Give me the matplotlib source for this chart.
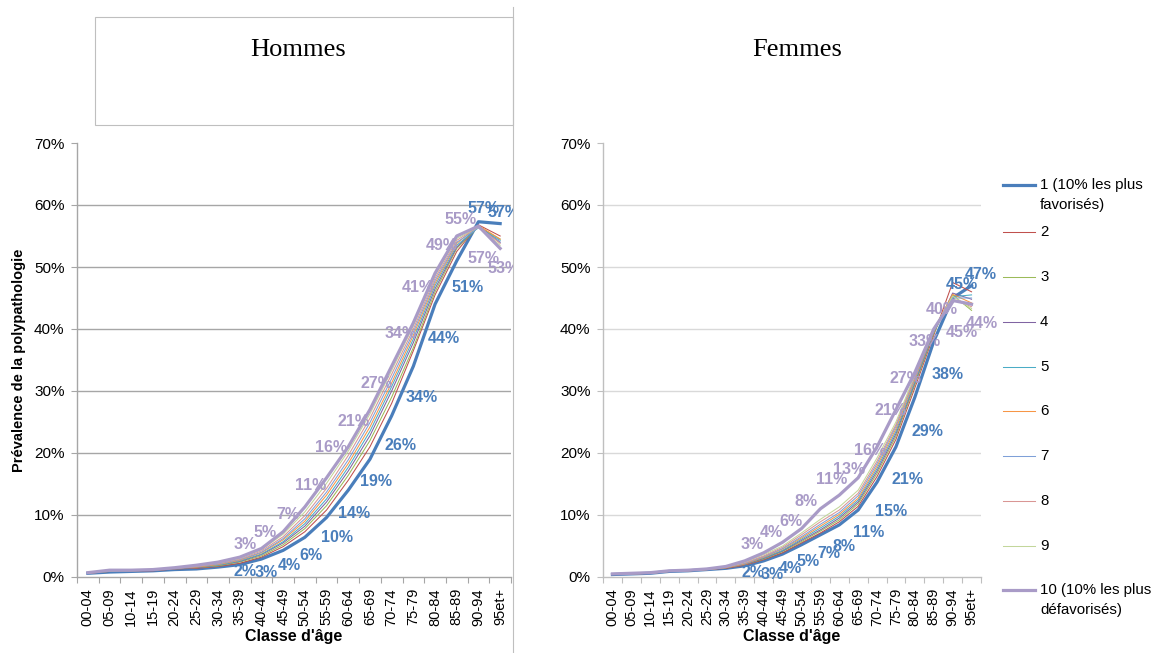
import numpy as np
import matplotlib
matplotlib.use("Agg")
from matplotlib import pyplot as plt
from matplotlib.patches import Rectangle
from matplotlib.transforms import Bbox, TransformedBbox
from matplotlib.ticker import FuncFormatter

plt.rcParams['font.family'] = ['Liberation Sans', 'DejaVu Sans']

ages = ["00-04", "05-09", "10-14", "15-19", "20-24", "25-29", "30-34", "35-39", "40-44", "45-49",
        "50-54", "55-59", "60-64", "65-69", "70-74", "75-79", "80-84", "85-89", "90-94", "95et+"]

deciles = ["1 (10% les plus\nfavorisés)", "2", "3", "4", "5", "6", "7", "8", "9",
           "10 (10% les plus\ndéfavorisés)"]

# prévalence en %, hommes, par décile
h1 = [0.6, 0.8, 0.9, 1.0, 1.2, 1.3, 1.6, 2.0, 2.9, 4.3, 6.4, 9.6, 14.0, 19.0, 26.0, 34.0, 44.0, 51.0, 57.3, 57.0]
h2 = [0.6, 0.9, 1.0, 1.0, 1.3, 1.4, 1.7, 2.2, 3.2, 4.9, 7.3, 10.8, 15.6, 21.0, 28.0, 36.5, 45.5, 52.5, 56.8, 55.0]
h3 = [0.6, 0.9, 1.0, 1.1, 1.3, 1.5, 1.8, 2.4, 3.4, 5.2, 7.8, 11.5, 16.4, 22.0, 29.0, 37.0, 46.0, 53.0, 56.5, 54.5]
h4 = [0.6, 0.9, 1.0, 1.1, 1.3, 1.5, 1.9, 2.5, 3.6, 5.5, 8.2, 12.1, 17.1, 22.8, 30.0, 37.8, 46.5, 53.2, 56.6, 54.0]
h5 = [0.7, 0.9, 1.0, 1.1, 1.4, 1.6, 1.9, 2.6, 3.7, 5.7, 8.6, 12.6, 17.7, 23.5, 30.7, 38.4, 47.0, 53.5, 56.4, 54.3]
h6 = [0.7, 1.0, 1.0, 1.1, 1.4, 1.6, 2.0, 2.7, 3.9, 6.0, 9.0, 13.2, 18.3, 24.2, 31.3, 39.0, 47.4, 53.8, 56.7, 54.5]
h7 = [0.7, 1.0, 1.0, 1.1, 1.4, 1.7, 2.1, 2.8, 4.0, 6.2, 9.4, 13.7, 18.9, 24.9, 32.0, 39.5, 47.8, 54.0, 56.3, 54.0]
h8 = [0.7, 1.0, 1.1, 1.2, 1.4, 1.7, 2.2, 2.9, 4.2, 6.5, 9.9, 14.3, 19.6, 25.6, 32.7, 40.0, 48.2, 54.3, 56.5, 53.8]
h9 = [0.7, 1.0, 1.1, 1.2, 1.5, 1.8, 2.3, 3.0, 4.4, 6.9, 10.5, 15.1, 20.3, 26.3, 33.3, 40.5, 48.6, 54.6, 56.4, 53.5]
h10 = [0.7, 1.1, 1.1, 1.2, 1.5, 1.9, 2.4, 3.2, 4.6, 7.3, 11.3, 16.0, 21.0, 27.0, 34.0, 41.0, 49.0, 55.0, 56.6, 53.0]

# femmes
f1 = [0.4, 0.5, 0.6, 0.9, 1.0, 1.2, 1.4, 1.8, 2.6, 3.7, 5.2, 6.8, 8.4, 10.8, 15.3, 21.0, 29.0, 38.0, 45.0, 47.0]
f2 = [0.4, 0.5, 0.6, 0.9, 1.0, 1.2, 1.4, 1.9, 2.8, 3.9, 5.5, 7.1, 8.9, 11.4, 16.2, 22.2, 30.5, 39.0, 47.5, 46.0]
f3 = [0.4, 0.5, 0.6, 0.9, 1.0, 1.2, 1.5, 2.0, 2.9, 4.1, 5.7, 7.4, 9.2, 11.8, 16.7, 22.7, 31.0, 39.3, 45.5, 43.0]
f4 = [0.4, 0.5, 0.6, 0.9, 1.0, 1.2, 1.5, 2.0, 3.0, 4.2, 5.9, 7.6, 9.5, 12.1, 17.1, 23.1, 31.3, 39.5, 45.8, 44.8]
f5 = [0.4, 0.5, 0.6, 0.9, 1.0, 1.2, 1.5, 2.1, 3.1, 4.3, 6.1, 7.9, 9.8, 12.4, 17.5, 23.5, 31.6, 39.6, 45.2, 45.5]
f6 = [0.4, 0.5, 0.6, 0.9, 1.0, 1.2, 1.5, 2.1, 3.2, 4.5, 6.3, 8.2, 10.1, 12.7, 17.9, 23.9, 31.9, 39.7, 45.6, 44.2]
f7 = [0.4, 0.5, 0.6, 0.9, 1.0, 1.3, 1.6, 2.2, 3.3, 4.6, 6.5, 8.5, 10.4, 13.1, 18.3, 24.3, 32.2, 39.8, 45.0, 45.0]
f8 = [0.5, 0.6, 0.7, 1.0, 1.1, 1.3, 1.6, 2.3, 3.4, 4.8, 6.8, 8.9, 10.8, 13.5, 18.7, 24.6, 32.4, 39.9, 44.8, 43.6]
f9 = [0.5, 0.6, 0.7, 1.0, 1.1, 1.3, 1.6, 2.4, 3.6, 5.0, 7.1, 9.3, 11.3, 14.0, 19.2, 25.0, 32.6, 40.0, 45.3, 43.3]
f10 = [0.5, 0.6, 0.7, 1.0, 1.1, 1.3, 1.7, 2.6, 3.9, 5.6, 7.8, 11.0, 13.2, 16.0, 21.0, 27.0, 33.0, 40.0, 44.6, 44.0]

hommes = [h1, h2, h3, h4, h5, h6, h7, h8, h9, h10]
femmes = [f1, f2, f3, f4, f5, f6, f7, f8, f9, f10]

couleurs = ['#4A7EBB', '#C0504D', '#9BBB59', '#8064A2', '#4BACC6',
            '#F79646', '#7FA0D8', '#D99694', '#C3D69B', '#A99BC7']
epaisseurs = [2.3, 0.75, 0.75, 0.75, 0.75, 0.75, 0.75, 0.75, 0.75, 2.3]
coul_lab1 = '#4A7EBB'
coul_lab10 = '#A99BC7'

# etiquettes a partir de 35-39 (decalages en pixels)
debut_lab = 7
dec_h1 = [(5, 7), (5, 13), (6, 15), (6, 18), (10, 20), (6, 23), (6, 22), (9, 30), (8, 31), (9, 34), (11, 27), (5, -13), (3, -11)]
dec_h10 = [(5, -13), (4, -16), (5, -17), (6, -21), (5, -30), (5, -25), (6, -26), (9, -33), (4, -35), (7, -28), (4, -17), (5, 32), (3, 20)]
dec_f1 = [(8, 7), (8, 14), (8, 14), (7, 17), (9, 19), (5, 22), (10, 22), (14, 29), (12, 33), (13, 34), (14, 33), (9, -14), (9, -11)]
dec_f10 = [(7, -16), (8, -20), (8, -21), (5, -27), (11, -29), (10, -26), (12, -27), (13, -36), (9, -31), (10, -31), (8, -20), (9, 32), (10, 19)]

W, H = 1159, 653
fig = plt.figure(figsize=(W / 100, H / 100), dpi=100)


def px_axes(x0, x1, y0, y1):
    return fig.add_axes([x0 / W, 1 - y1 / H, (x1 - x0) / W, (y1 - y0) / H])


def trace(ax, series, grille, axe_col):
    x = np.arange(len(ages))
    for vals, c, lw in zip(series, couleurs, epaisseurs):
        ax.plot(x, np.array(vals) / 100, color=c, lw=lw, solid_joinstyle='round', zorder=3)
    ax.set_xlim(-0.5, len(ages) - 0.5)
    ax.set_ylim(0, 0.70)
    yt = np.arange(0, 0.71, 0.1)
    ax.set_yticks(yt)
    ax.yaxis.set_major_formatter(FuncFormatter(lambda v, p: f"{v * 100:.0f}%"))
    for v in yt[1:-1]:
        ax.axhline(v, color=grille, lw=1.0, zorder=1)
    ax.set_xticks(x)
    ax.set_xticklabels(ages, rotation=90, fontsize=10.5)
    ax.set_xticks(np.arange(-0.5, len(ages)), minor=True)
    ax.tick_params(axis='x', which='major', length=0, pad=8)
    ax.tick_params(axis='x', which='minor', length=4, color=axe_col, width=0.8)
    ax.tick_params(axis='y', length=4, color=axe_col, width=0.8, labelsize=11, pad=5)
    for s in ['top', 'right']:
        ax.spines[s].set_visible(False)
    for s in ['left', 'bottom']:
        ax.spines[s].set_color(axe_col)
        ax.spines[s].set_linewidth(1.0)
    ax.set_xlabel("Classe d'âge", fontsize=11.5, fontweight='bold', labelpad=2)
    ax.patch.set_alpha(0)


def etiquettes(ax, vals, decal, col, clip=None):
    for k, (dx, dy) in enumerate(decal):
        i = debut_lab + k
        v = vals[i]
        t = ax.annotate(f"{v:.0f}%", (i, v / 100), xytext=(dx, -dy), textcoords='offset pixels',
                        ha='center', va='center', color=col, fontsize=11.5, fontweight='bold',
                        annotation_clip=False, zorder=5)
        if clip is not None:
            t.set_clip_box(clip)
            t.set_clip_on(True)


ax_h = px_axes(77, 511, 143, 577)
trace(ax_h, hommes, '#A6A6A6', '#A6A6A6')
ax_h.set_ylabel("Prévalence de la polypathologie", fontsize=10.5, fontweight='bold', labelpad=6)
clip_h = TransformedBbox(Bbox([[0, 0], [513 / W, 1]]), fig.transFigure)
etiquettes(ax_h, h1, dec_h1, coul_lab1, clip_h)
etiquettes(ax_h, h10, dec_h10, coul_lab10, clip_h)

ax_f = px_axes(603, 981, 143, 577)
trace(ax_f, femmes, '#D9D9D9', '#BFBFBF')
etiquettes(ax_f, f1, dec_f1, coul_lab1)
etiquettes(ax_f, f10, dec_f10, coul_lab10)

# calque en pixels pour cadres, titres et legende
ov = fig.add_axes([0, 0, 1, 1], zorder=10)
ov.set_xlim(0, W)
ov.set_ylim(H, 0)
ov.axis('off')
ov.add_patch(Rectangle((95, 17), 418, 108, fill=False, ec='#BFBFBF', lw=0.8))
ov.plot([513, 513], [7, H], color='#BFBFBF', lw=0.8)
ov.text(298, 50, "Hommes", fontfamily=['Liberation Serif'], fontsize=19, ha='center', va='center')
ov.text(797, 50, "Femmes", fontfamily=['Liberation Serif'], fontsize=19, ha='center', va='center')

leg_y = [185, 232, 277, 322, 367, 411, 456, 501, 546, 590]
for lab, c, lw, y in zip(deciles, couleurs, epaisseurs, leg_y):
    ov.plot([1003, 1035], [y, y], color=c, lw=lw)
    for k, ligne in enumerate(lab.split("\n")):
        ov.text(1040, y + 20 * k, ligne, fontsize=10.8, ha='left', va='center')

fig.savefig("out.png", dpi=100)
